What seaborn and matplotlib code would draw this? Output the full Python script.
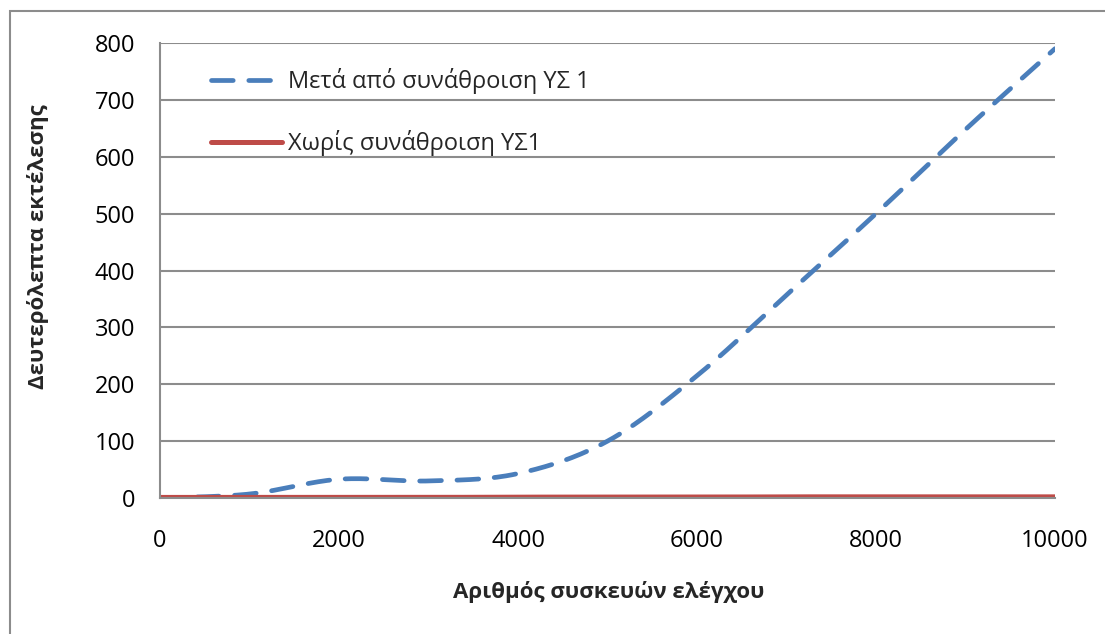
import numpy as np
import pandas as pd
import matplotlib
matplotlib.use("Agg")
import matplotlib.pyplot as plt
import seaborn as sns
from matplotlib.patches import Rectangle

# ---- data ----
devices = [0, 1000, 2000, 3000, 4000, 5000, 6000, 7000, 8000, 9000, 10000]
with_aggr = [0, 7, 33, 30, 43, 100, 215, 357, 500, 648, 790]
without_aggr = [1, 1, 1, 1, 1.5, 1.5, 1.5, 2, 2, 2, 2]
label_with = "Μετά από συνάθροιση ΥΣ 1"
label_without = "Χωρίς συνάθροιση ΥΣ1"
xlabel = "Αριθμός συσκευών ελέγχου"
ylabel = "Δευτερόλεπτα εκτέλεσης"
xticks = [0, 2000, 4000, 6000, 8000, 10000]
yticks = [0, 100, 200, 300, 400, 500, 600, 700, 800]

BLUE = "#4A7EBB"
RED = "#BE4B48"
GRID = "#8C8C8C"


def smooth(x, y, n=30):
    """Excel-like smoothed line (uniform Catmull-Rom through the data points)."""
    x = np.asarray(x, float)
    y = np.asarray(y, float)
    P = np.column_stack([x, y])
    P = np.vstack([P[0], P, P[-1]])
    out = []
    t = np.linspace(0, 1, n, endpoint=False)
    for i in range(1, len(P) - 2):
        p0, p1, p2, p3 = P[i - 1], P[i], P[i + 1], P[i + 2]
        c1 = p1 + (p2 - p0) / 6
        c2 = p2 - (p3 - p1) / 6
        for tt in t:
            b = ((1 - tt) ** 3) * p1 + 3 * ((1 - tt) ** 2) * tt * c1 + 3 * (1 - tt) * tt ** 2 * c2 + tt ** 3 * p2
            out.append(b)
    out.append(P[-2])
    out = np.array(out)
    return out[:, 0], out[:, 1]


sns.set_theme(style="white")
plt.rcParams["font.family"] = ["Open Sans", "DejaVu Sans"]

fig = plt.figure(figsize=(11.05, 6.34), dpi=100)
ax = fig.add_axes([160 / 1105, 1 - 498 / 634, (1055 - 160) / 1105, (498 - 43) / 634])

sx, sy = smooth(devices, with_aggr)
df1 = pd.DataFrame({"x": sx, "y": sy})
rx, ry = smooth(devices, without_aggr)
df2 = pd.DataFrame({"x": rx, "y": ry})

sns.lineplot(data=df1, x="x", y="y", ax=ax, color=BLUE, linewidth=3.4,
             label=label_with, sort=False, estimator=None,
             dashes=False, solid_capstyle="round")
ax.lines[-1].set_dashes([4.6, 3.3])
ax.lines[-1].set_dash_capstyle("round")
sns.lineplot(data=df2, x="x", y="y", ax=ax, color=RED, linewidth=3.6,
             label=label_without, sort=False, estimator=None)

ax.set_xlim(0, 10000)
ax.set_ylim(0, 800)
ax.set_xticks(xticks)
ax.set_yticks(yticks)
ax.set_xticklabels([str(t) for t in xticks])
ax.set_yticklabels([str(t) for t in yticks])
ax.tick_params(axis="both", labelsize=17, colors="black", length=5, width=1.5,
               color=GRID, direction="out")
ax.tick_params(axis="y", pad=13)
ax.tick_params(axis="x", pad=17)
ax.yaxis.grid(True, color=GRID, linewidth=1.5)
ax.xaxis.grid(False)
for s in ["top", "right"]:
    ax.spines[s].set_visible(False)
for s in ["left", "bottom"]:
    ax.spines[s].set_color(GRID)
    ax.spines[s].set_linewidth(1.5)
ax.set_xlabel("")
ax.set_ylabel("")

leg = ax.legend(loc="upper left", bbox_to_anchor=(0.0335, 0.992), frameon=False,
                fontsize=17, handlelength=3.0, handletextpad=0.25, labelspacing=1.55)

fig.text(609 / 1105, 1 - 592 / 634, xlabel, ha="center", va="center",
         fontsize=16, fontweight="bold")
fig.text(38 / 1105, 1 - 247 / 634, ylabel, ha="center", va="center",
         fontsize=16, fontweight="bold", rotation=90)

fig.patches.append(Rectangle((10 / 1105, -0.05), 1.2, (1 - 11 / 634) + 0.05,
                             transform=fig.transFigure, fill=False,
                             edgecolor="#8C8C8C", linewidth=1.5))

fig.savefig("out.png", dpi=100)
